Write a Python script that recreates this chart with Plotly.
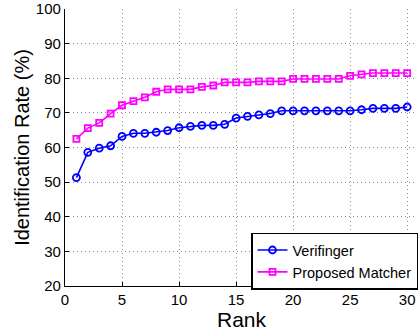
import plotly.graph_objects as go

rank = list(range(1, 31))
verifinger = [51.3, 58.6, 59.8, 60.5, 63.2, 64.1, 64.1, 64.4, 64.9, 65.7,
              66.1, 66.4, 66.4, 66.7, 68.5, 69.0, 69.4, 69.8, 70.6, 70.6,
              70.6, 70.6, 70.6, 70.6, 70.6, 70.9, 71.3, 71.3, 71.3, 71.7]
proposed = [62.5, 65.6, 67.1, 69.8, 72.2, 73.4, 74.5, 76.1, 76.8, 76.8,
            76.8, 77.5, 77.9, 78.8, 78.8, 78.8, 79.1, 79.1, 79.1, 79.8,
            79.8, 79.8, 79.8, 79.8, 80.7, 81.1, 81.5, 81.5, 81.5, 81.5]
xticks = [0, 5, 10, 15, 20, 25, 30]
yticks = [20, 30, 40, 50, 60, 70, 80, 90, 100]

FONT = "Liberation Sans, Arial, Helvetica, sans-serif"

fig = go.Figure()
fig.add_trace(go.Scatter(
    x=rank, y=verifinger, name="Verifinger", mode="lines+markers",
    line=dict(color="#0000FF", width=1.6),
    marker=dict(symbol="circle-open", size=7, color="#0000FF", line=dict(width=1.8)),
))
fig.add_trace(go.Scatter(
    x=rank, y=proposed, name="Proposed Matcher", mode="lines+markers",
    line=dict(color="#FF00FF", width=1.6),
    marker=dict(symbol="square-open", size=6, color="#FF00FF", line=dict(width=1.8)),
))

grid = dict(showgrid=True, gridcolor="#8c8c8c", griddash="1px,3px", gridwidth=1)

fig.update_layout(
    width=418, height=332,
    margin=dict(l=65, r=0, t=7, b=46),
    paper_bgcolor="white", plot_bgcolor="white",
    font=dict(family=FONT, size=15, color="black"),
    showlegend=True,
    legend=dict(
        x=0.533, y=0.09, xanchor="left", yanchor="middle",
        bgcolor="white", bordercolor="black", borderwidth=1.5,
        font=dict(size=14.5, family=FONT, color="black"),
        itemwidth=30, tracegroupgap=0,
    ),
    xaxis=dict(
        range=[0, 30.6], tickvals=xticks, ticks="inside", ticklen=4,
        tickcolor="black", showline=True, linecolor="black", linewidth=1.2,
        zeroline=False, tickfont=dict(size=15, family=FONT),
        ticklabelstandoff=0, ticklabeloverflow="allow", **grid,
    ),
    yaxis=dict(
        range=[20, 100], tickvals=yticks, ticks="inside", ticklen=4,
        tickcolor="black", showline=True, linecolor="black", linewidth=1.2,
        zeroline=False, tickfont=dict(size=15, family=FONT),
        title=dict(text="Identification Rate (%)", font=dict(size=20, family=FONT), standoff=0),
        ticklabelstandoff=0, ticklabeloverflow="allow", **grid,
    ),
    annotations=[dict(
        text="Rank", xref="paper", yref="paper", x=0.507, y=0,
        xanchor="center", yanchor="top", yshift=-20, showarrow=False,
        font=dict(size=21, family=FONT, color="black"),
    )],
)

fig.write_html("out.html")
